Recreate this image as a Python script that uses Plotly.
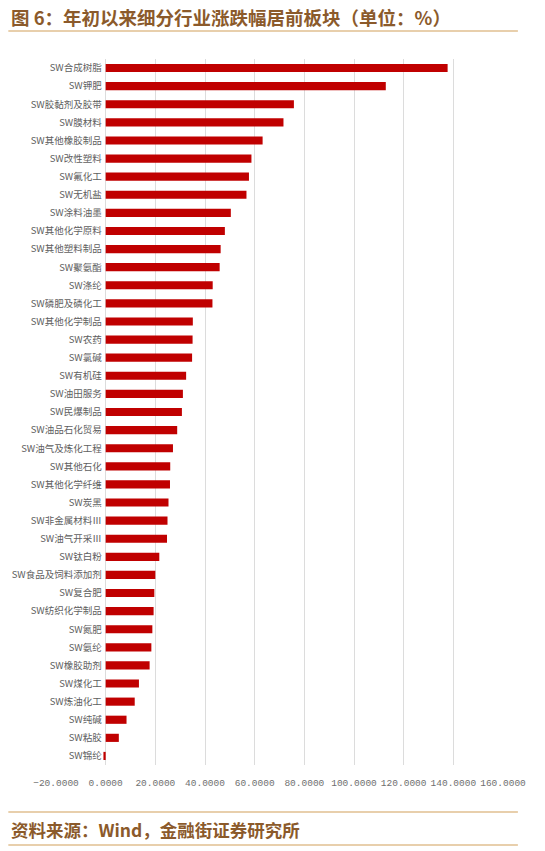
import plotly.graph_objects as go

categories = ["SW合成树脂", "SW钾肥", "SW胶黏剂及胶带", "SW膜材料", "SW其他橡胶制品", "SW改性塑料",
              "SW氟化工", "SW无机盐", "SW涂料油墨", "SW其他化学原料", "SW其他塑料制品", "SW聚氨酯",
              "SW涤纶", "SW磷肥及磷化工", "SW其他化学制品", "SW农药", "SW氯碱", "SW有机硅",
              "SW油田服务", "SW民爆制品", "SW油品石化贸易", "SW油气及炼化工程", "SW其他石化",
              "SW其他化学纤维", "SW炭黑", "SW非金属材料Ⅲ", "SW油气开采Ⅲ", "SW钛白粉",
              "SW食品及饲料添加剂", "SW复合肥", "SW纺织化学制品", "SW氮肥", "SW氨纶", "SW橡胶助剂",
              "SW煤化工", "SW炼油化工", "SW纯碱", "SW粘胶", "SW锦纶"]
values = [137.7, 112.8, 75.8, 71.6, 63.2, 58.7, 57.7, 56.7, 50.4, 48.0, 46.3, 45.9,
          43.1, 43.0, 35.1, 35.0, 34.8, 32.4, 31.1, 30.7, 28.8, 27.1, 26.0, 25.9,
          25.3, 24.9, 24.7, 21.6, 20.0, 19.6, 19.3, 18.8, 18.4, 17.7, 13.4, 11.7,
          8.4, 5.3, -0.9]
x_ticks = [-20, 0, 20, 40, 60, 80, 100, 120, 140, 160]

W, H = 545, 851
L, R, T, B = 53, 42, 59, 86
pw = W - L - R
ph = H - T - B

def px(x):
    return (x - L) / pw

def py(y):
    return (H - B - y) / ph

fig = go.Figure(go.Bar(
    y=categories, x=values, orientation="h",
    marker=dict(color="#C00000", line=dict(width=0)),
    width=0.45,
))

brown = "#8B5A2B"
gold = "#D2A05A"

fig.update_layout(
    width=W, height=H,
    margin=dict(l=L, r=R, t=T, b=B),
    paper_bgcolor="white", plot_bgcolor="white",
    showlegend=False,
    xaxis=dict(range=[-20, 160], tickvals=x_ticks, tickformat=".4f",
               showgrid=True, gridcolor="#DCDCDC", gridwidth=1,
               zeroline=True, zerolinecolor="#DCDCDC", zerolinewidth=1,
               ticks="", ticklabelstandoff=10,
               tickfont=dict(family="Liberation Mono", size=9.5, color="#707070"),
               fixedrange=True),
    yaxis=dict(autorange="reversed", anchor="free", position=20 / 180,
               showgrid=False, zeroline=False, showline=False, ticks="",
               ticklabelstandoff=4,
               tickfont=dict(family="Noto Sans CJK SC", size=9.5, color="#606060"),
               fixedrange=True),
    shapes=[
        dict(type="line", xref="paper", yref="paper", x0=px(5), x1=px(518), y0=py(31), y1=py(31),
             line=dict(color=gold, width=1.2)),
        dict(type="line", xref="paper", yref="paper", x0=px(5), x1=px(518), y0=py(812), y1=py(812),
             line=dict(color=gold, width=1.2)),
        dict(type="line", xref="paper", yref="paper", x0=px(5), x1=px(518), y0=py(845), y1=py(845),
             line=dict(color=gold, width=1.2)),
    ],
    annotations=[
        dict(text="<b>图 6：年初以来细分行业涨跌幅居前板块（单位：%）</b>", xref="paper", yref="paper",
             x=px(6), y=py(17), xanchor="left", yanchor="middle", showarrow=False,
             font=dict(family="Noto Sans CJK SC", size=18.5, color=brown)),
        dict(text="<b>资料来源：Wind，金融街证券研究所</b>", xref="paper", yref="paper",
             x=px(6), y=py(829), xanchor="left", yanchor="middle", showarrow=False,
             font=dict(family="Noto Sans CJK SC", size=17.5, color=brown)),
    ],
)

fig.write_html("out.html")
